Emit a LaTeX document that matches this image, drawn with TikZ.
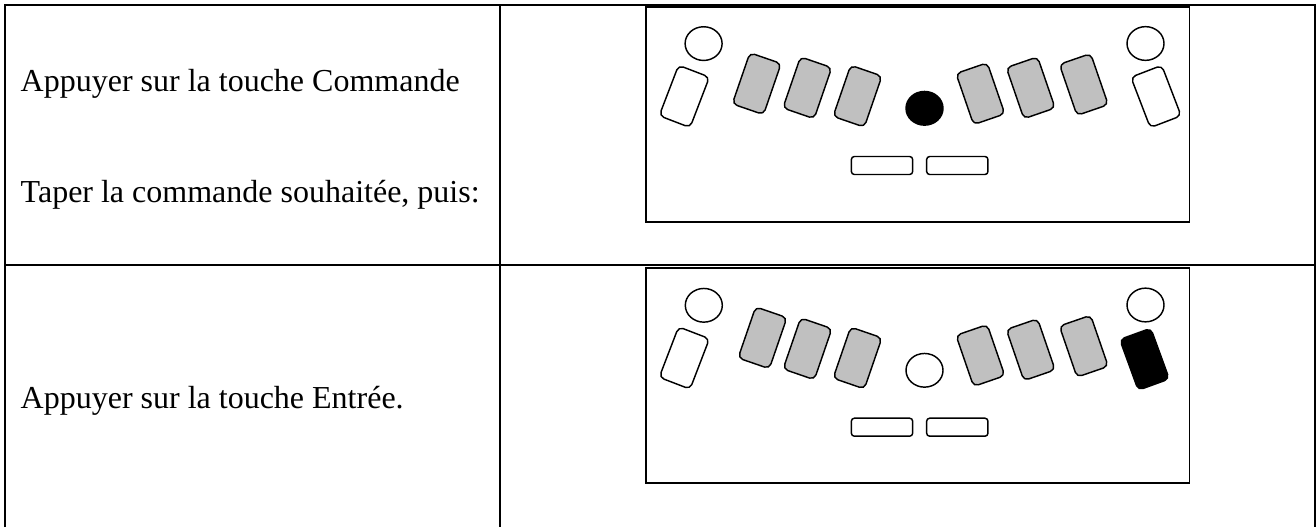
\documentclass[tikz,border=0pt]{standalone}
\usepackage{fontspec}
\setmainfont{Liberation Serif}
\usetikzlibrary{shapes.geometric}
\definecolor{keygray}{HTML}{C0C0C0}
\tikzset{
  tableline/.style={line width=2pt, black},
  kbbox/.style={draw, line width=1.8pt, rectangle, inner sep=0pt, minimum width=543.1pt, minimum height=215pt, anchor=north west},
  keybase/.style={draw, line width=1.45pt, rectangle, rounded corners=5pt, inner sep=0pt, minimum width=33pt, minimum height=54pt},
  whitekey/.style={keybase, fill=white},
  graykey/.style={keybase, fill=keygray},
  blackkey/.style={keybase, fill=black},
  roundkey/.style={draw, line width=1.45pt, ellipse, inner sep=0pt, minimum width=37pt, minimum height=33.7pt, fill=white},
  blackround/.style={roundkey, fill=black},
  spacekey/.style={draw, line width=1.45pt, rectangle, rounded corners=3pt, inner sep=0pt, minimum width=61.3pt, minimum height=18pt, fill=white},
  label/.style={anchor=base west, inner sep=0pt, font=\fontsize{32}{38}\selectfont}
}
\begin{document}
\begin{tikzpicture}[x=1pt, y=-1pt]
\useasboundingbox (0,0) rectangle (1316,527);
% table grid
\draw[tableline] (5,527) -- (5,5) -- (1314.8,5) -- (1314.8,527);
\draw[tableline] (500,5) -- (500,527);
\draw[tableline] (5,265) -- (1314.8,265);
% texts
\node[label] (t1) at (20.5,91) {Appuyer sur la touche Commande};
\node[label] (t2) at (20.5,202.5) {Taper la commande souhaitée, puis:};
\node[label] (t3) at (20.5,408) {Appuyer sur la touche Entrée.};
% keyboard 1
\node[kbbox] (kb1) at (645.4,6) {};
\node[roundkey] (a1cl) at (703.6,43.6) {};
\node[whitekey, rotate=-21] (a1wl) at (684.3,96.4) {};
\node[graykey, rotate=-19] (a1g1) at (756.7,83.7) {};
\node[graykey, rotate=-19] (a1g2) at (807.3,87.8) {};
\node[graykey, rotate=-19] (a1g3) at (857.5,96.2) {};
\node[blackround] (a1c) at (924.5,108.3) {};
\node[graykey, rotate=19] (a1g4) at (980.4,93.7) {};
\node[graykey, rotate=19] (a1g5) at (1030.7,87.8) {};
\node[graykey, rotate=19] (a1g6) at (1083.8,84.5) {};
\node[whitekey, rotate=21] (a1wr) at (1156,96.5) {};
\node[roundkey] (a1cr) at (1145.5,43.5) {};
\node[spacekey] (a1sl) at (882,165.5) {};
\node[spacekey] (a1sr) at (957.3,165.5) {};
% keyboard 2
\node[kbbox] (kb2) at (645.4,267.3) {};
\node[roundkey] (a2cl) at (703.8,305.3) {};
\node[whitekey, rotate=-21] (a2wl) at (684.3,358) {};
\node[graykey, rotate=-19] (a2g1) at (762.5,337.8) {};
\node[graykey, rotate=-19] (a2g2) at (807.5,348.8) {};
\node[graykey, rotate=-19] (a2g3) at (857.5,358) {};
\node[roundkey] (a2c) at (924.5,370.3) {};
\node[graykey, rotate=19] (a2g4) at (980.4,355.5) {};
\node[graykey, rotate=19] (a2g5) at (1030.7,349.7) {};
\node[graykey, rotate=19] (a2g6) at (1083.8,346.2) {};
\node[blackkey, rotate=20] (a2wr) at (1144.5,359.2) {};
\node[roundkey] (a2cr) at (1145.5,305) {};
\node[spacekey] (a2sl) at (882,427.2) {};
\node[spacekey] (a2sr) at (957.3,427.2) {};
\end{tikzpicture}
\end{document}
